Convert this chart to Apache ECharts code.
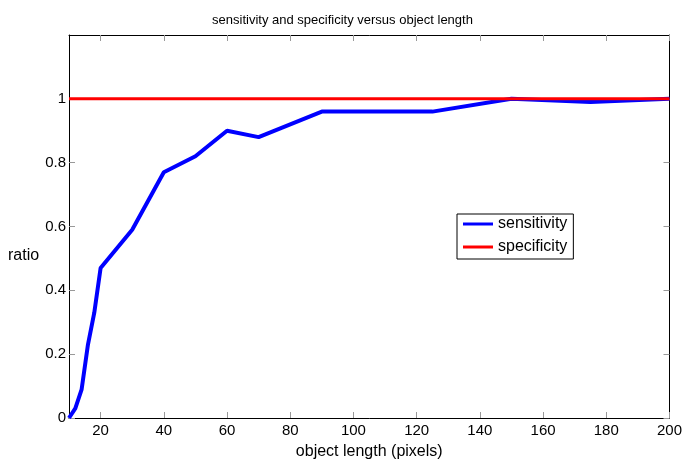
<!DOCTYPE html>
<html>
<head>
<meta charset="utf-8">
<script src="https://cdn.jsdelivr.net/npm/echarts@6/dist/echarts.min.js"></script>
<style>
  html, body { margin: 0; padding: 0; background: #fff; }
  #chart { width: 685px; height: 465px; }
</style>
</head>
<body>
<div id="chart"></div>
<script>
// object length (pixels)
const lengths = [10, 12, 14, 16, 18, 20, 30, 40, 50, 60, 70, 90, 125, 150, 175, 200];
const sensitivity = [0, 0.03, 0.09, 0.23, 0.33, 0.47, 0.59, 0.77, 0.82, 0.90, 0.88, 0.96, 0.96, 1.0, 0.99, 1.0];
const specificity = [1, 1, 1, 1, 1, 1, 1, 1, 1, 1, 1, 1, 1, 1, 1, 1];
const xTicks = [20, 40, 60, 80, 100, 120, 140, 160, 180, 200];
const yTicks = [0, 0.2, 0.4, 0.6, 0.8, 1];

const chart = echarts.init(document.getElementById('chart'));
const font = 'Liberation Sans, Arial, sans-serif';

const pair = (xs, ys) => xs.map((x, i) => [x, ys[i]]);

const axisBase = {
  axisLine: { show: true, onZero: false, lineStyle: { color: '#000', width: 1 } },
  axisTick: { show: true, inside: true, length: 6, lineStyle: { color: '#999' } },
  splitLine: { show: false }
};

const option = {
  backgroundColor: '#fff',
  animation: false,
  title: {
    text: 'sensitivity and specificity versus object length',
    left: 'center',
    top: 9,
    textStyle: { fontFamily: font, fontSize: 13, fontWeight: 'normal', color: '#000' }
  },
  grid: { left: 69, right: 14, top: 35, bottom: 45 },
  legend: {
    orient: 'vertical',
    left: 457,
    top: 214,
    backgroundColor: '#fff',
    borderColor: '#000',
    borderWidth: 1,
    borderRadius: 0,
    padding: [1, 6, 3, 6],
    itemGap: 5,
    itemWidth: 30,
    itemHeight: 3,
    icon: 'rect',
    textStyle: { fontFamily: font, fontSize: 16, lineHeight: 18, color: '#000' },
    data: ['sensitivity', 'specificity']
  },
  graphic: [
    {
      type: 'text',
      left: 8,
      top: 248,
      style: { text: 'ratio', fontFamily: font, fontSize: 16, fill: '#000' }
    }
  ],
  xAxis: [
    Object.assign({}, axisBase, {
      type: 'value',
      min: 10,
      max: 200,
      name: 'object length (pixels)',
      nameLocation: 'middle',
      nameGap: 26,
      nameTextStyle: { fontFamily: font, fontSize: 16, color: '#000' },
      axisTick: Object.assign({}, axisBase.axisTick, { customValues: xTicks }),
      axisLabel: { customValues: xTicks, fontFamily: font, fontSize: 15, color: '#000', margin: 5 }
    }),
    Object.assign({}, axisBase, {
      type: 'value',
      position: 'top',
      min: 10,
      max: 200,
      axisTick: Object.assign({}, axisBase.axisTick, { customValues: xTicks }),
      axisLabel: { show: false, customValues: xTicks }
    })
  ],
  yAxis: [
    Object.assign({}, axisBase, {
      type: 'value',
      min: 0,
      max: 1.2,
      axisTick: Object.assign({}, axisBase.axisTick, { customValues: yTicks }),
      axisLabel: { customValues: yTicks, fontFamily: font, fontSize: 15, color: '#000', margin: 3 }
    }),
    Object.assign({}, axisBase, {
      type: 'value',
      position: 'right',
      min: 0,
      max: 1.2,
      axisTick: Object.assign({}, axisBase.axisTick, { customValues: yTicks }),
      axisLabel: { show: false, customValues: yTicks }
    })
  ],
  series: [
    {
      name: 'sensitivity',
      type: 'line',
      data: pair(lengths, sensitivity),
      showSymbol: false,
      symbol: 'none',
      color: '#0000ff',
      lineStyle: { color: '#0000ff', width: 4 },
      z: 2
    },
    {
      name: 'specificity',
      type: 'line',
      data: pair(lengths, specificity),
      showSymbol: false,
      symbol: 'none',
      color: '#ff0000',
      lineStyle: { color: '#ff0000', width: 3 },
      z: 3
    }
  ]
};

chart.setOption(option);
</script>
</body>
</html>
